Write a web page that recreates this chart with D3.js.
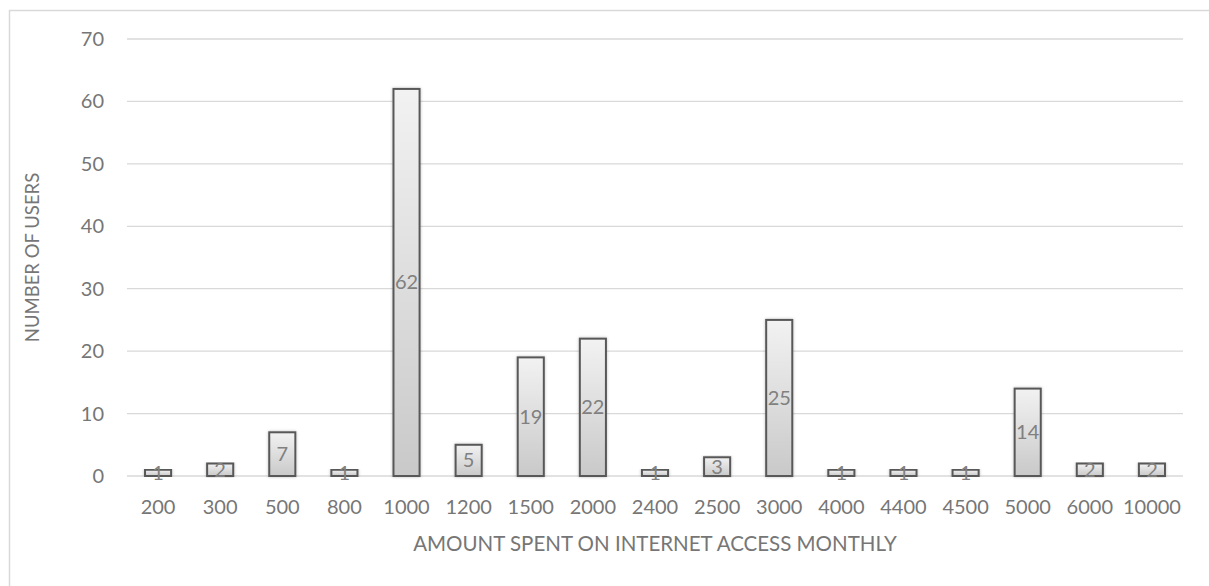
<!DOCTYPE html>
<html>
<head>
<meta charset="utf-8">
<script src="https://cdn.jsdelivr.net/npm/d3@7"></script>
<style>
  body { margin: 0; background: #fff; }
  text { font-family: Lato, "Open Sans", sans-serif; }
</style>
</head>
<body>
<div id="chart"></div>
<script>
// data
const amounts = ['200', '300', '500', '800', '1000', '1200', '1500', '2000', '2400', '2500',
  '3000', '4000', '4400', '4500', '5000', '6000', '10000']
const users = [1, 2, 7, 1, 62, 5, 19, 22, 1, 3, 25, 1, 1, 1, 14, 2, 2]
const yTicks = [0, 10, 20, 30, 40, 50, 60, 70]

const width = 1209
const height = 586
const margin = {top: 39, right: 26, bottom: 110, left: 127}
const textColor = '#767676'

const svg = d3.select('#chart').append('svg')
  .attr('width', width)
  .attr('height', height)

// bar gradient + shadow
const defs = svg.append('defs')
const grad = defs.append('linearGradient')
  .attr('id', 'barGrad')
  .attr('x1', 0).attr('y1', 0).attr('x2', 0).attr('y2', 1)
grad.append('stop').attr('offset', '0%').attr('stop-color', '#f2f2f2')
grad.append('stop').attr('offset', '100%').attr('stop-color', '#c9c9c9')

const shadow = defs.append('filter').attr('id', 'shadow')
  .attr('x', '-30%').attr('y', '-10%').attr('width', '160%').attr('height', '120%')
shadow.append('feDropShadow')
  .attr('dx', 0).attr('dy', 0).attr('stdDeviation', 1.5)
  .attr('flood-color', '#000').attr('flood-opacity', 0.25)

// outer chart border (left + top only visible)
svg.append('path')
  .attr('d', `M9.5,${height} V10.5 H${width}`)
  .attr('fill', 'none')
  .attr('stroke', '#d9d9d9')
  .attr('stroke-width', 1.5)

const x = d3.scaleBand()
  .domain(amounts)
  .range([margin.left, width - margin.right])
  .paddingInner(0.58)
  .paddingOuter(0.29)

const y = d3.scaleLinear()
  .domain([0, 70])
  .range([height - margin.bottom, margin.top])

// gridlines
svg.append('g')
  .selectAll('line')
  .data(yTicks)
  .join('line')
    .attr('x1', margin.left)
    .attr('x2', width - margin.right)
    .attr('y1', d => y(d))
    .attr('y2', d => y(d))
    .attr('stroke', '#d9d9d9')
    .attr('stroke-width', 1.3)

// y axis labels
svg.append('g')
  .selectAll('text')
  .data(yTicks)
  .join('text')
    .attr('x', 104)
    .attr('y', d => y(d))
    .attr('dy', '0.35em')
    .attr('text-anchor', 'end')
    .attr('font-size', 20)
    .attr('fill', textColor)
    .text(d => d)

// x axis labels
svg.append('g')
  .selectAll('text')
  .data(amounts)
  .join('text')
    .attr('x', d => x(d) + x.bandwidth() / 2)
    .attr('y', 507)
    .attr('dy', '0.35em')
    .attr('text-anchor', 'middle')
    .attr('font-size', 20)
    .attr('fill', textColor)
    .text(d => d)

// bars
svg.append('g')
  .selectAll('rect')
  .data(amounts)
  .join('rect')
    .attr('x', d => x(d))
    .attr('y', (d, i) => y(users[i]))
    .attr('width', x.bandwidth())
    .attr('height', (d, i) => y(0) - y(users[i]))
    .attr('fill', 'url(#barGrad)')
    .attr('stroke', '#595959')
    .attr('stroke-width', 2)
    .attr('filter', 'url(#shadow)')

// value labels, centered in each bar
svg.append('g')
  .selectAll('text')
  .data(amounts)
  .join('text')
    .attr('x', d => x(d) + x.bandwidth() / 2)
    .attr('y', (d, i) => (y(users[i]) + y(0)) / 2)
    .attr('dy', '0.35em')
    .attr('text-anchor', 'middle')
    .attr('font-size', 20)
    .attr('fill', '#808080')
    .text((d, i) => users[i])

// axis titles
svg.append('text')
  .attr('x', (margin.left + width - margin.right) / 2)
  .attr('y', 544)
  .attr('dy', '0.35em')
  .attr('text-anchor', 'middle')
  .attr('font-size', 20.5)
  .attr('fill', textColor)
  .text('AMOUNT SPENT ON INTERNET ACCESS MONTHLY')

svg.append('text')
  .attr('transform', `translate(33,${(y(0) + y(70)) / 2}) rotate(-90)`)
  .attr('dy', '0.35em')
  .attr('text-anchor', 'middle')
  .attr('font-size', 18.5)
  .attr('fill', textColor)
  .text('NUMBER OF USERS')
</script>
</body>
</html>
